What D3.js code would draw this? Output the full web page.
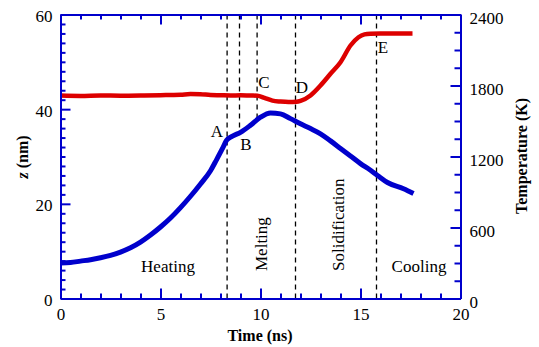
<!DOCTYPE html>
<html><head><meta charset="utf-8">
<script src="https://cdn.jsdelivr.net/npm/d3@7"></script>
<style>body{margin:0;background:#fff}svg{display:block}</style>
</head><body><svg id="c" width="539" height="347"></svg>
<script>
// time (ns) and film position z (nm) — blue
const blueTime = [0,0.5,1,1.5,2,2.5,3,3.5,4,4.5,5,5.5,6,6.5,7,7.5,7.8,8.1,8.3,8.6,9.0,9.5,10.0,10.5,11.0,11.5,12.0,12.5,13,13.5,14,14.5,15,15.5,15.85,16.35,17.15,17.65];
const blueZ    = [7.5,7.6,7.9,8.2,8.6,9.1,9.8,10.7,11.9,13.4,15.1,17.0,19.2,21.6,24.2,27.0,29.3,31.7,33.4,34.3,35.1,36.6,38.3,39.2,39.0,38.0,36.9,35.9,34.8,33.3,31.7,30.1,28.5,27.1,26.0,24.5,23.2,22.2];
// time (ns) and temperature (K) — red
const redTime = [0,1,2,3,4,5,5.5,6,6.5,7,7.5,8,8.5,9,9.5,9.85,10.2,10.6,11,11.4,11.8,12.0,12.5,13,13.5,14,14.5,14.9,15.2,15.5,16,17,17.6];
const redTemp = [1715,1712,1716,1714,1715,1718,1720,1722,1728,1726,1720,1718,1716,1717,1715,1714,1695,1672,1664,1660,1662,1670,1716,1800,1899,1997,2138,2208,2232,2238,2240,2240,2240];
// event markers
const markerNames = ["A","B","C","D","E"];
const markerTimes = [8.33,8.95,9.83,11.75,15.8];
const markerToBottom = [true,false,false,true,true];
// phases
const phaseNames = ["Heating","Melting","Solidification","Cooling"];
const xTicks = [0,5,10,15,20];
const zTicks = [0,20,40,60];
const tTicks = [0,600,1200,1800,2400];

// pick an installed serif font
const cands = ["Liberation Serif","Tinos","Times New Roman","DejaVu Serif","Noto Serif"];
const cv = document.createElement("canvas").getContext("2d");
function w(f){cv.font = "20px " + f; return cv.measureText("Heating Temperature 0123").width;}
const base = w("monospace");
let FONT = "serif";
for (const c of cands){ if (Math.abs(w('"'+c+'", monospace')-base)>0.5){FONT='"'+c+'", serif'; break;} }

const svg = d3.select("#c").style("font-family",FONT);
const L=60.5,R=460.5,T=14.5,B=298.5;
const x = d3.scaleLinear().domain([0,20]).range([L,R]);
const yz = d3.scaleLinear().domain([0,60]).range([B,T]);
const yt = d3.scaleLinear().domain([0,2400]).range([B,T]);
const axCol = "#0000cc";
const zAt = d3.scaleLinear().domain(blueTime).range(blueZ);

// dashed markers
svg.selectAll("line.mk").data(markerTimes).join("line")
  .attr("x1",d=>x(d)).attr("x2",d=>x(d)).attr("y1",T)
  .attr("y2",(d,i)=>markerToBottom[i]?B:yz(zAt(d)))
  .attr("stroke","#000").attr("stroke-width",1.3).attr("stroke-dasharray","5,4");

// curves
const lineZ = d3.line().x((d,i)=>x(blueTime[i])).y(d=>yz(d)).curve(d3.curveMonotoneX);
const lineT = d3.line().x((d,i)=>x(redTime[i])).y(d=>yt(d)).curve(d3.curveMonotoneX);
svg.append("path").attr("d",lineT(redTemp)).attr("fill","none").attr("stroke","#dd0000").attr("stroke-width",4.5).attr("stroke-linejoin","round");
svg.append("path").attr("d",lineZ(blueZ)).attr("fill","none").attr("stroke","#0000cc").attr("stroke-width",5).attr("stroke-linejoin","round");

// axes
function styleAxis(g){g.attr("font-family",null);
  g.select(".domain").attr("stroke",axCol).attr("stroke-width",2);
  g.selectAll(".tick line").attr("stroke",axCol).attr("stroke-width",2);
  g.selectAll("text").attr("font-size",17).attr("fill","#000");}
const minorX = d3.range(0,21,1).filter(v=>v%5);
const minorZ = d3.range(0,61,2).filter(v=>v%20);
const minorT = d3.range(0,2401,150).filter(v=>v%600);
const fmt = d3.format("d");

const gb = svg.append("g").attr("transform",`translate(0,${B})`).call(d3.axisBottom(x).tickValues(xTicks).tickFormat(fmt).tickSize(-10).tickPadding(9).tickSizeOuter(0));
gb.append("g").call(d3.axisBottom(x).tickValues(minorX).tickSize(-5).tickFormat("")).select(".domain").remove();
styleAxis(gb);
const gt = svg.append("g").attr("transform",`translate(0,${T})`).call(d3.axisTop(x).tickValues(xTicks).tickSize(-10).tickFormat("").tickSizeOuter(0));
gt.append("g").call(d3.axisTop(x).tickValues(minorX).tickSize(-5).tickFormat("")).select(".domain").remove();
styleAxis(gt);
const gl = svg.append("g").attr("transform",`translate(${L},0)`).call(d3.axisLeft(yz).tickValues(zTicks).tickFormat(fmt).tickSize(-10).tickPadding(8).tickSizeOuter(0));
gl.append("g").call(d3.axisLeft(yz).tickValues(minorZ).tickSize(-5).tickFormat("")).select(".domain").remove();
styleAxis(gl);
gl.selectAll(".tick text").attr("dy","0.42em");
const gr = svg.append("g").attr("transform",`translate(${R},0)`).call(d3.axisRight(yt).tickValues(tTicks).tickFormat(fmt).tickSize(-10).tickPadding(9).tickSizeOuter(0));
gr.append("g").call(d3.axisRight(yt).tickValues(minorT).tickSize(-6).tickFormat("")).select(".domain").remove();
styleAxis(gr);
gr.selectAll(".tick text").attr("dy","0.55em");

// axis titles
svg.append("text").attr("x",260).attr("y",341).attr("text-anchor","middle").attr("font-size",16).attr("font-weight","bold").text("Time (ns)");
const zt = svg.append("text").attr("transform","translate(28,157) rotate(-90)").attr("text-anchor","middle").attr("font-size",16).attr("font-weight","bold");
zt.append("tspan").attr("font-style","italic").text("z");
zt.append("tspan").text(" (nm)");
svg.append("text").attr("transform","translate(527,156) rotate(-90)").attr("text-anchor","middle").attr("font-size",16).attr("font-weight","bold").text("Temperature (K)");

// marker letters
const letterPos = [[217,137],[246,150],[264,88],[302,93],[383,53]];
svg.selectAll("text.lt").data(markerNames).join("text")
  .attr("x",(d,i)=>letterPos[i][0]).attr("y",(d,i)=>letterPos[i][1]).attr("text-anchor","middle").attr("font-size",17).text(d=>d);

// phase labels
svg.append("text").attr("x",168).attr("y",272).attr("text-anchor","middle").attr("font-size",17).text(phaseNames[0]);
svg.append("text").attr("transform","translate(267,271) rotate(-90)").attr("text-anchor","start").attr("font-size",17).text(phaseNames[1]);
svg.append("text").attr("transform","translate(344,271) rotate(-90)").attr("text-anchor","start").attr("font-size",17).text(phaseNames[2]);
svg.append("text").attr("x",419).attr("y",272).attr("text-anchor","middle").attr("font-size",17).text(phaseNames[3]);
</script></body></html>
